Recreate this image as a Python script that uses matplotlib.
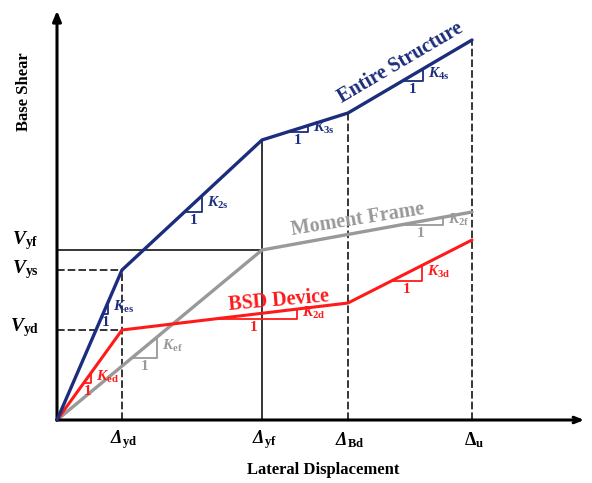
import numpy as np
import matplotlib.pyplot as plt

plt.rcParams['font.family'] = ['Liberation Serif', 'DejaVu Serif']
plt.rcParams['font.weight'] = 'bold'
plt.rcParams['mathtext.fontset'] = 'custom'
plt.rcParams['mathtext.rm'] = 'Liberation Serif:bold:italic'
plt.rcParams['mathtext.it'] = 'Liberation Serif:bold:italic'
plt.rcParams['mathtext.bf'] = 'Liberation Serif:bold'

# characteristic displacements / shears (schematic units)
disp_labels = [r'$\Delta_{\mathbf{yd}}$', r'$\Delta_{\mathbf{yf}}$',
               r'$\Delta_{\mathbf{Bd}}$', r'$\mathbf{\Delta}_{\mathbf{u}}$']
disp = [65, 205, 291, 415]
shear_labels = [r'$V_{\mathbf{yf}}$', r'$V_{\mathbf{ys}}$', r'$V_{\mathbf{yd}}$']
shear = [170, 150, 90]

# backbone curves
struct_x = [0, 65, 205, 291, 415]
struct_y = [0, 150, 280, 307, 380]
frame_x = [0, 205, 415]
frame_y = [0, 170, 208]
bsd_x = [0, 65, 291, 415]
bsd_y = [0, 90, 117, 180]

navy = '#1b2d7c'
red = '#ff1a1a'
gray = '#999999'

fig = plt.figure(figsize=(5.92, 4.83), dpi=100)
ax = fig.add_axes([0, 0, 1, 1])
ax.set_xlim(-57, 535)
ax.set_ylim(-63, 420)
ax.axis('off')

# guide lines
top = np.interp(disp, struct_x, struct_y)
styles = ['--', '-', '--', '--']
for d, t, ls in zip(disp, top, styles):
    if ls == '--':
        ax.plot([d, d], [0, t], color='black', lw=1.1, ls=ls, dashes=(5, 2), zorder=1)
    else:
        ax.plot([d, d], [0, t], color='black', lw=1.1, zorder=1)
ends = [205, 65, 65]
hstyles = ['-', '--', '--']
for v, e, ls in zip(shear, ends, hstyles):
    if ls == '--':
        ax.plot([0, e], [v, v], color='black', lw=1.1, ls=ls, dashes=(5, 2), zorder=1)
    else:
        ax.plot([0, e], [v, v], color='black', lw=1.1, zorder=1)

# curves
ax.plot(frame_x, frame_y, color=gray, lw=2.4, solid_capstyle='round', zorder=2)
ax.plot(bsd_x, bsd_y, color=red, lw=2.2, solid_capstyle='round', zorder=3)
ax.plot(struct_x, struct_y, color=navy, lw=2.4, solid_capstyle='round', zorder=4)

# axes with arrows
ax.annotate('', xy=(0, 412), xytext=(0, -3),
            arrowprops=dict(arrowstyle='-|>,head_length=0.6,head_width=0.25', color='black', lw=2.2))
ax.annotate('', xy=(530, 0), xytext=(-3, 0),
            arrowprops=dict(arrowstyle='->,head_length=0.5,head_width=0.2', color='black', lw=2.2))

# slope triangles: curve, left x, width, subscript, color
tris = [
    (struct_x, struct_y, 46, 5, 'es', navy),
    (struct_x, struct_y, 128, 17, '2s', navy),
    (struct_x, struct_y, 231, 20, '3s', navy),
    (struct_x, struct_y, 345, 21, '4s', navy),
    (bsd_x, bsd_y, 27, 7, 'ed', red),
    (bsd_x, bsd_y, 153, 87, '2d', red),
    (bsd_x, bsd_y, 334, 31, '3d', red),
    (frame_x, frame_y, 75, 25, 'ef', gray),
    (frame_x, frame_y, 342, 44, '2f', gray),
]
for xs, ys, x0, w, sub, c in tris:
    y0 = np.interp(x0, xs, ys)
    y1 = np.interp(x0 + w, xs, ys)
    ax.plot([x0, x0 + w, x0 + w], [y0, y0, y1], color=c, lw=1.3, zorder=3)
    ax.text(x0 + w + 5, (y0 + y1) / 2 + 1, r'$K_{\mathbf{%s}}$' % sub, color=c,
            fontsize=11, ha='left', va='center')
    ax.text(x0 + w / 2, y0 - 2, '1', color=c, fontsize=11, ha='center', va='top')

# curve names
ax.text(343, 357, 'Entire Structure', color=navy, fontsize=14.5, rotation=30.5,
        ha='center', va='center', rotation_mode='anchor')
ax.text(301, 200, 'Moment Frame', color=gray, fontsize=14.5, rotation=9,
        ha='center', va='center', rotation_mode='anchor')
ax.text(222, 119, 'BSD Device', color=red, fontsize=14.5, rotation=5,
        ha='center', va='center', rotation_mode='anchor')

# axis labels
for d, lab in zip(disp, disp_labels):
    ax.text(d + 2, -20, lab, fontsize=13, ha='center', va='center')
offs = [9, 0, 2]
for v, lab, o in zip(shear, shear_labels, offs):
    ax.text(-32, v + o, lab, fontsize=14, ha='center', va='center')
ax.text(266, -50, 'Lateral Displacement', fontsize=12, ha='center', va='center')
ax.text(-33, 328, 'Base Shear', fontsize=12, rotation=90, ha='center', va='center')

fig.savefig('out.png', dpi=100)
